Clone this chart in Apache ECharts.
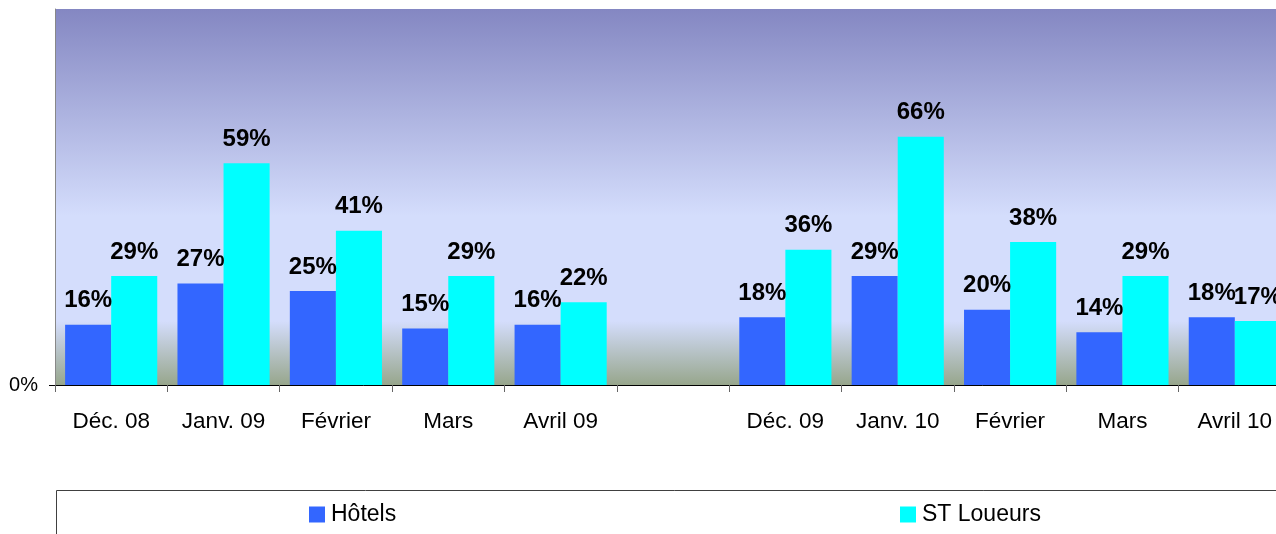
<!DOCTYPE html>
<html>
<head>
<meta charset="utf-8">
<script src="https://cdn.jsdelivr.net/npm/echarts@6/dist/echarts.min.js"></script>
<style>
html,body{margin:0;padding:0;background:#fff;overflow:hidden;}
#c{width:1291px;height:534px;}
</style>
</head>
<body>
<div id="c"></div>
<script>
var categories = ['Déc. 08','Janv. 09','Février','Mars','Avril 09','','Déc. 09','Janv. 10','Février','Mars','Avril 10'];
var hotels = [16,27,25,15,16,null,18,29,20,14,18];
var stLoueurs = [29,59,41,29,22,null,36,66,38,29,17];
var yTicks = [0];

var chart = echarts.init(document.getElementById('c'));
var font = 'Liberation Sans, Arial, sans-serif';
var labelOpt = {
  show: true, position: 'top', distance: 12,
  formatter: '{c}%', color: '#000', fontWeight: 'bold', fontSize: 24, fontFamily: font
};
chart.setOption({
  animation: false,
  grid: {
    left: 55, right: 0, top: 9, bottom: 149, show: true, borderWidth: 0,
    backgroundColor: new echarts.graphic.LinearGradient(0,0,0,1,[
      {offset:0,color:'#8487c2'},
      {offset:0.55,color:'#d4ddfc'},
      {offset:0.83,color:'#d4ddfc'},
      {offset:1,color:'#97a68c'}
    ])
  },
  xAxis: {
    type: 'category', data: categories, boundaryGap: true,
    axisLine: {lineStyle:{color:'#000',width:1}},
    axisTick: {show:true, length:7, lineStyle:{color:'#666'}},
    axisLabel: {color:'#000', fontSize:22.5, fontFamily:font, margin:25, interval:0}
  },
  yAxis: {
    type: 'value', min: 0, max: 100, interval: 100,
    splitLine: {show:false},
    axisLine: {show:true, lineStyle:{color:'#888'}},
    axisTick: {show:true, length:6, customValues: yTicks, lineStyle:{color:'#000'}},
    axisLabel: {customValues: yTicks, formatter: function(v){return v + '%';}, color:'#000', fontSize:20, fontFamily:font, margin:17}
  },
  legend: [
    {data:['Hôtels'], left:309, top:503, padding:0, itemWidth:16, itemHeight:16, icon:'rect',
     textStyle:{fontSize:23, fontFamily:font, color:'#000', padding:[0,0,0,1]}},
    {data:['ST Loueurs'], left:900, top:503, padding:0, itemWidth:16, itemHeight:16, icon:'rect',
     textStyle:{fontSize:23, fontFamily:font, color:'#000', padding:[0,0,0,1]}}
  ],
  graphic: [{
    type:'rect', silent:true, z:-1,
    shape:{x:56.5, y:490.5, width:1300, height:100},
    style:{fill:'#fff', stroke:'#404040', lineWidth:1}
  }],
  series: [
    {name:'Hôtels', type:'bar', data:hotels, barGap:'0%', barCategoryGap:'18%',
     itemStyle:{color:'#3366ff'}, label:labelOpt},
    {name:'ST Loueurs', type:'bar', data:stLoueurs, barGap:'0%', barCategoryGap:'18%',
     itemStyle:{color:'#00ffff'}, label:labelOpt}
  ]
});
</script>
</body>
</html>
